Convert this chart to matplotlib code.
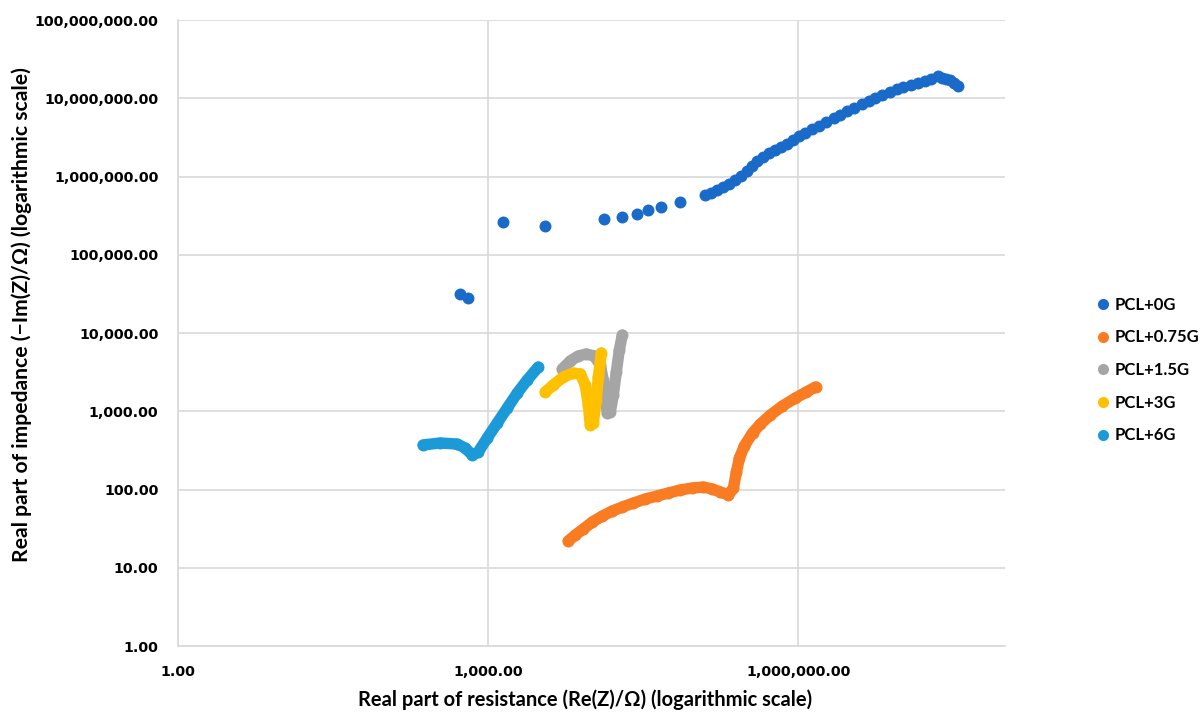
import matplotlib
matplotlib.use("Agg")
import matplotlib.pyplot as plt
from matplotlib.lines import Line2D
from matplotlib.ticker import FixedLocator, FuncFormatter, NullLocator

# ---- data: Re(Z) [ohm] vs -Im(Z) [ohm] ----
labels = ["PCL+0G", "PCL+0.75G", "PCL+1.5G", "PCL+3G", "PCL+6G"]
colors = ["#1A6AC9", "#F97B22", "#A5A5A5", "#FFC000", "#1B9AD7"]

re_0g = [537, 641, 1400, 3570, 13300, 19900, 27700, 35500, 47400, 72400,
         126500, 144500, 165200, 188800, 215800, 246600, 281800, 322100,
         360600, 402700, 460300, 526000, 601000, 687100, 785200, 899500,
         1028000, 1175000, 1371000, 1603000, 1875000, 2193000, 2559000,
         2992000, 3499000, 4093000, 4786000, 5585000, 6531000, 7638000,
         8933000, 10420000, 12190000, 14260000, 16670000, 19450000,
         22280000, 24320000, 26610000, 29110000, 31770000, 34750000]
im_0g = [31500, 28000, 262000, 233000, 286000, 304000, 332000, 373000,
         408000, 472000,
         580700, 615200, 671400, 734500, 801700, 901500, 1014000, 1175000,
         1361000, 1578000, 1774000, 1995000, 2183000, 2382000, 2600000,
         2924000, 3296000, 3597000, 4046000, 4416000, 4966000, 5598000,
         6109000, 6871000, 7499000, 8453000, 9226000, 10070000, 11020000,
         12020000, 13120000, 13930000, 14760000, 15670000, 16600000,
         17620000, 19230000, 18160000, 17620000, 17100000, 15670000,
         14350000]

re_075g = [5960, 6970, 8340, 10190, 12740, 15890, 19860, 25400, 33200,
           43400, 55300, 72400, 94600, 120800, 147600, 176600, 210900,
           236000, 252000, 270000, 301000, 361000, 431000, 538000, 703000,
           940000, 1200000, 1470000]
im_075g = [22.0, 26.2, 31.3, 38.5, 45.8, 53.1, 59.7, 67.1, 75.7, 82.6,
           90.2, 98.6, 104.5, 107.6, 101.4, 92.9, 85.1, 104.5, 167.5, 253,
           360, 527, 687, 895, 1167, 1476, 1762, 2042]

re_15g = [5210, 6240, 7450, 8910, 10640, 12160, 13000, 13610, 14220, 15200,
          16250, 17380, 18580, 19860]
im_15g = [3470, 4390, 5080, 5400, 5080, 3900, 2510, 1480, 950, 977, 1610,
          3180, 6070, 9420]

re_3g = [3570, 4265, 5330, 6670, 7800, 8710, 9310, 9730, 10400, 11120,
         11640, 12450]
im_3g = [1760, 2160, 2740, 3080, 2990, 2160, 1200, 667, 708, 1390, 2740,
         5550]

re_6g = [235, 344, 502, 600, 702, 802, 980, 1225, 1530, 1915, 2390, 3055]
im_6g = [371, 393, 381, 339, 276, 301, 455, 708, 1100, 1710, 2510, 3670]

x_ticks = [1, 1e3, 1e6]
y_ticks = [1, 10, 100, 1e3, 1e4, 1e5, 1e6, 1e7, 1e8]

# ---- figure ----
fig = plt.figure(figsize=(12.02, 7.12), dpi=100)
ax = fig.add_axes([178 / 1202, 1 - 646 / 712, 827 / 1202, 626 / 712])
ax.set_xscale("log")
ax.set_yscale("log")
ax.set_xlim(1, 1e8)
ax.set_ylim(1, 1e8)

grid_c = "#D9D9D9"
ax.xaxis.set_major_locator(FixedLocator(x_ticks))
ax.yaxis.set_major_locator(FixedLocator(y_ticks))
ax.xaxis.set_minor_locator(NullLocator())
ax.yaxis.set_minor_locator(NullLocator())
fmt = FuncFormatter(lambda v, p: f"{v:,.2f}")
ax.xaxis.set_major_formatter(fmt)
ax.yaxis.set_major_formatter(fmt)
ax.grid(True, which="major", color=grid_c, lw=1.2)
ax.set_axisbelow(True)
for s in ["top", "right"]:
    ax.spines[s].set_visible(False)
for s in ["left", "bottom"]:
    ax.spines[s].set_color(grid_c)
    ax.spines[s].set_linewidth(1.2)
ax.tick_params(length=0, labelsize=10.2, labelcolor="#000000")
ax.tick_params(axis="y", pad=14)
ax.tick_params(axis="x", pad=14)
for t in ax.get_xticklabels() + ax.get_yticklabels():
    t.set_fontweight("bold")
    t.set_family("DejaVu Sans")

ms = 8.6
lw = 8.2
# scattered markers for the first series
ax.plot(re_0g, im_0g, linestyle="none", marker="o", ms=ms, mec="none",
        color=colors[0], zorder=3)
series = [(re_075g, im_075g), (re_15g, im_15g), (re_3g, im_3g), (re_6g, im_6g)]
for (xs, ys), c in zip(series, colors[1:]):
    ax.plot(xs, ys, "-", marker="o", ms=ms, mec="none", color=c, lw=lw,
            solid_capstyle="round", solid_joinstyle="round", zorder=3)

ax.set_xlabel("Real part of resistance (Re(Z)/\u03a9) (logarithmic scale)",
              fontsize=14.5, fontweight="bold", family="Lato")
ax.set_ylabel("Real part of impedance (\u2212Im(Z)/\u03a9) (logarithmic scale)",
              fontsize=15.2, fontweight="bold", family="Lato")
ax.xaxis.set_label_coords((585 - 178) / 827, (646 - 689) / 626)
ax.yaxis.set_label_coords((32 - 178) / 827, (646 - 315) / 626)

handles = [Line2D([], [], linestyle="none", marker="o", ms=8, mec="none",
                  color=c) for c in colors]
fig.legend(handles, labels, loc="center left",
           bbox_to_anchor=(1080 / 1202, 1 - 370 / 712), frameon=False,
           prop={"family": "Lato", "weight": "bold", "size": 12},
           labelspacing=1.0, handletextpad=0.2, handlelength=1.0)

fig.savefig("out.png", dpi=100, facecolor="white")
